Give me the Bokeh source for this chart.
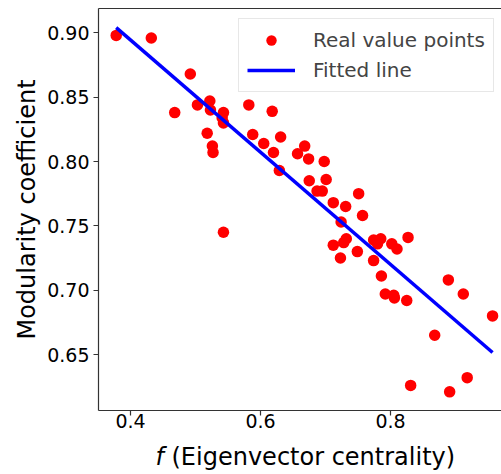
from bokeh.plotting import figure
from bokeh.layouts import column
from bokeh.models import (Range1d, FixedTicker, NumeralTickFormatter, Legend,
                          LegendItem, LinearAxis, ColumnDataSource)
from bokeh.core.properties import value
from bokeh.embed import file_html
from bokeh.resources import INLINE

# ---- data ----
eigen_x = [0.378, 0.432, 0.492, 0.468, 0.503, 0.522, 0.523, 0.543, 0.541, 0.543,
           0.518, 0.526, 0.527, 0.582, 0.618, 0.588, 0.605, 0.631, 0.620, 0.629,
           0.657, 0.668, 0.674, 0.698, 0.675, 0.701, 0.687, 0.695, 0.751, 0.712,
           0.731, 0.757, 0.724, 0.712, 0.728, 0.732, 0.723, 0.749, 0.774, 0.785,
           0.780, 0.774, 0.802, 0.810, 0.827, 0.786, 0.792, 0.805, 0.806, 0.825,
           0.889, 0.912, 0.957, 0.868, 0.831, 0.891, 0.918, 0.543]
modularity_y = [0.898, 0.896, 0.868, 0.838, 0.844, 0.847, 0.840, 0.838, 0.834, 0.830,
                0.822, 0.812, 0.807, 0.844, 0.839, 0.821, 0.814, 0.819, 0.807, 0.793,
                0.806, 0.812, 0.802, 0.800, 0.785, 0.786, 0.777, 0.777, 0.775, 0.768,
                0.765, 0.758, 0.753, 0.735, 0.737, 0.740, 0.725, 0.730, 0.739, 0.740,
                0.736, 0.723, 0.736, 0.732, 0.741, 0.711, 0.697, 0.696, 0.694, 0.692,
                0.708, 0.697, 0.680, 0.665, 0.626, 0.621, 0.632, 0.745]
fit_slope = -0.4361
fit_intercept = 1.0689
x_ticks = [0.4, 0.6, 0.8]
y_ticks = [0.65, 0.70, 0.75, 0.80, 0.85, 0.90]
x_label_italic = "f"
x_label_rest = "(Eigenvector centrality)"
y_label = "Modularity coefficient"
legend_labels = ["Real value points", "Fitted line"]

FONT = "DejaVu Sans"
SPINE = "#333333"

p = figure(frame_width=403, frame_height=402, output_backend="svg",
           toolbar_location=None,
           x_range=Range1d(0.35077, 0.97077), y_range=Range1d(0.6065, 0.9189),
           min_border_left=98, min_border_right=0, min_border_top=8,
           min_border_bottom=30)
p.outline_line_color = None
p.grid.visible = False

src = ColumnDataSource(dict(x=eigen_x, y=modularity_y))
sc = p.scatter("x", "y", source=src, size=11.5, fill_color="red",
               line_color="red", line_width=0)

fx = [min(eigen_x), max(eigen_x)]
fy = [fit_intercept + fit_slope * v for v in fx]
ln = p.line(fx, fy, line_color="blue", line_width=3.5)

for ax in (p.xaxis[0], p.yaxis[0]):
    ax.axis_line_color = SPINE
    ax.axis_line_width = 1.2
    ax.major_tick_line_color = SPINE
    ax.major_tick_line_width = 1.2
    ax.major_tick_out = 5
    ax.major_tick_in = 0
    ax.minor_tick_out = 0
    ax.minor_tick_in = 0
    ax.minor_tick_line_color = None
    ax.major_label_text_font = FONT
    ax.major_label_text_font_size = "19px"
    ax.major_label_text_color = "black"

p.xaxis[0].ticker = FixedTicker(ticks=x_ticks)
p.xaxis[0].formatter = NumeralTickFormatter(format="0.0")
p.xaxis[0].major_label_standoff = -2
p.xaxis[0].axis_label = None
p.xaxis[0].axis_label_standoff = 0
p.yaxis[0].ticker = FixedTicker(ticks=y_ticks)
p.yaxis[0].formatter = NumeralTickFormatter(format="0.00")
p.yaxis[0].major_label_standoff = 4
p.yaxis[0].axis_label = y_label
p.yaxis[0].axis_label_text_font = FONT
p.yaxis[0].axis_label_text_font_size = "24px"
p.yaxis[0].axis_label_text_font_style = "normal"
p.yaxis[0].axis_label_text_color = "black"
p.yaxis[0].axis_label_standoff = 3

top = LinearAxis(ticker=FixedTicker(ticks=[]), axis_line_color=SPINE,
                 axis_line_width=1.2, major_tick_line_color=None,
                 minor_tick_line_color=None, major_label_text_font_size="0px",
                 major_tick_out=0, major_tick_in=0, minor_tick_out=0,
                 minor_tick_in=0, major_label_standoff=0,
                 axis_label_standoff=0)
p.add_layout(top, "above")

legend = Legend(items=[LegendItem(label=legend_labels[0], renderers=[sc]),
                       LegendItem(label=legend_labels[1], renderers=[ln])],
                location=(140, 318), label_text_font=FONT,
                label_text_font_size="20px", glyph_width=48, glyph_height=26,
                label_height=26, label_standoff=18, spacing=4, padding=8,
                margin=0, border_line_color="#d0d0d0", border_line_width=1,
                background_fill_color="white", background_fill_alpha=0.8)
p.add_layout(legend)

# strip below holding the x-axis title (italic "f" + rest); its frame
# spans page pixels x 98..501, so the range is given in page pixels
p2 = figure(frame_width=403, frame_height=34, output_backend="svg",
            toolbar_location=None,
            x_range=Range1d(98, 501), y_range=Range1d(0, 34),
            x_axis_location=None, y_axis_location=None,
            min_border_left=98, min_border_right=0,
            min_border_top=0, min_border_bottom=0)
p2.grid.visible = False
p2.outline_line_color = None
p2.text(x=[155], y=[18], text=[x_label_italic], text_font=value(FONT),
        text_font_style="italic", text_font_size="24px",
        text_baseline="alphabetic", text_align="left", text_color="black")
p2.text(x=[171], y=[18], text=[x_label_rest], text_font=value(FONT),
        text_font_size="24px", text_baseline="alphabetic", text_align="left",
        text_color="black")

layout = column(p, p2, spacing=0)
open("out.html", "w").write(file_html(layout, INLINE))
